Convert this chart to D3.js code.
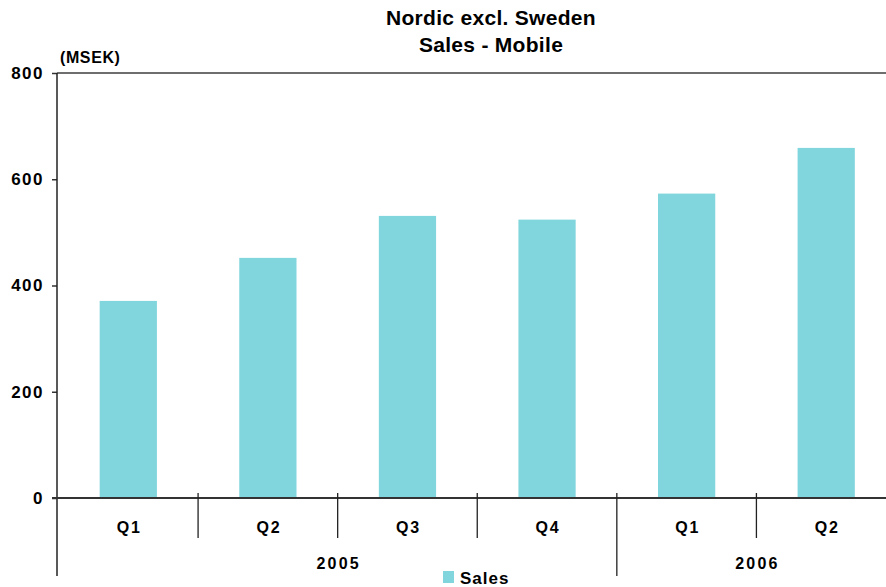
<!DOCTYPE html>
<html>
<head>
<meta charset="utf-8">
<script src="https://cdn.jsdelivr.net/npm/d3@7/dist/d3.min.js"></script>
<style>
  body { margin: 0; background: #fff; }
  svg { display: block; font-family: "Liberation Sans", Arial, sans-serif; }
</style>
</head>
<body>
<svg id="chart" width="886" height="587"></svg>
<script>
// Quarterly mobile sales, Nordic region excluding Sweden (MSEK)
const quarters = ["Q1", "Q2", "Q3", "Q4", "Q1", "Q2"];
const years = ["2005", "2005", "2005", "2005", "2006", "2006"];
const sales = [371, 452, 531, 524, 573, 659];
const yTicks = [0, 200, 400, 600, 800];
const titleLines = ["Nordic excl. Sweden", "Sales - Mobile"];
const seriesName = "Sales";

const svg = d3.select("#chart");
const W = 886;
const ink = "#000";
const barColor = "#81d5dc";

const x = d3.scaleBand()
  .domain(d3.range(sales.length))
  .range([58.5, 896])
  .paddingInner(0.59)
  .paddingOuter(0.295);

const y = d3.scaleLinear().domain([0, 800]).range([498, 73]);

// Title
svg.append("g").selectAll("text").data(titleLines).join("text")
  .attr("x", 491).attr("y", (d, i) => 25 + i * 27)
  .attr("text-anchor", "middle")
  .attr("font-size", 21).attr("font-weight", "bold").attr("letter-spacing", 0.3)
  .text(d => d);

// Unit label
svg.append("text").attr("x", 60).attr("y", 63)
  .attr("font-size", 16).attr("font-weight", "bold").attr("letter-spacing", 0.6)
  .text("(MSEK)");

// Top gridline
svg.append("line").attr("x1", 57).attr("x2", W).attr("y1", y(800)).attr("y2", y(800))
  .attr("stroke", "#6e6e6e").attr("stroke-width", 2);

// Bars
svg.append("g").selectAll("rect").data(sales).join("rect")
  .attr("x", (d, i) => x(i))
  .attr("width", x.bandwidth())
  .attr("y", d => y(d))
  .attr("height", d => y(0) - y(d))
  .attr("fill", barColor);

// Y axis
const yAxis = d3.axisLeft(y).tickValues(yTicks).tickSize(5).tickPadding(8);
const gy = svg.append("g").attr("transform", "translate(57,0)").call(yAxis);
gy.select(".domain").remove();
gy.selectAll(".tick line").attr("stroke", "#333").attr("stroke-width", 1.5);
gy.selectAll(".tick text").attr("font-size", 17).attr("font-weight", "bold")
  .attr("letter-spacing", 1.5)
  .attr("font-family", "Liberation Sans, Arial, sans-serif").attr("fill", ink);
svg.append("line").attr("x1", 57).attr("x2", 57).attr("y1", y(800)).attr("y2", 576)
  .attr("stroke", "#222").attr("stroke-width", 1.5);

// Zero baseline
svg.append("line").attr("x1", 52).attr("x2", W).attr("y1", y(0)).attr("y2", y(0))
  .attr("stroke", "#333").attr("stroke-width", 2);

// Quarter labels and separators
const step = x.step();
const bandStart = i => x(i) - x.paddingInner() * step / 2;
svg.append("g").selectAll("text").data(quarters).join("text")
  .attr("x", (d, i) => bandStart(i) + step / 2 + 1)
  .attr("y", 533)
  .attr("text-anchor", "middle").attr("font-size", 16).attr("font-weight", "bold")
  .attr("letter-spacing", 1.8)
  .text(d => d);

const seps = d3.range(1, quarters.length);
svg.append("g").selectAll("line").data(seps).join("line")
  .attr("x1", i => bandStart(i)).attr("x2", i => bandStart(i))
  .attr("y1", 493)
  .attr("y2", i => years[i] !== years[i - 1] ? 576 : 538)
  .attr("stroke", "#222").attr("stroke-width", 1.3);

// Year labels centred over their quarters
const yearGroups = d3.groups(d3.range(quarters.length), i => years[i]);
svg.append("g").selectAll("text").data(yearGroups).join("text")
  .attr("x", ([, idx]) => (bandStart(idx[0]) + bandStart(idx[idx.length - 1]) + step) / 2 + 1)
  .attr("y", 569)
  .attr("text-anchor", "middle").attr("font-size", 16).attr("font-weight", "bold")
  .attr("letter-spacing", 2.2)
  .text(([yr]) => yr);

// Legend
const lg = svg.append("g").attr("transform", "translate(443,571)");
lg.append("rect").attr("width", 11).attr("height", 12).attr("fill", barColor);
lg.append("text").attr("x", 17).attr("y", 13)
  .attr("font-size", 17).attr("font-weight", "bold").attr("letter-spacing", 1)
  .text(seriesName);
</script>
</body>
</html>
